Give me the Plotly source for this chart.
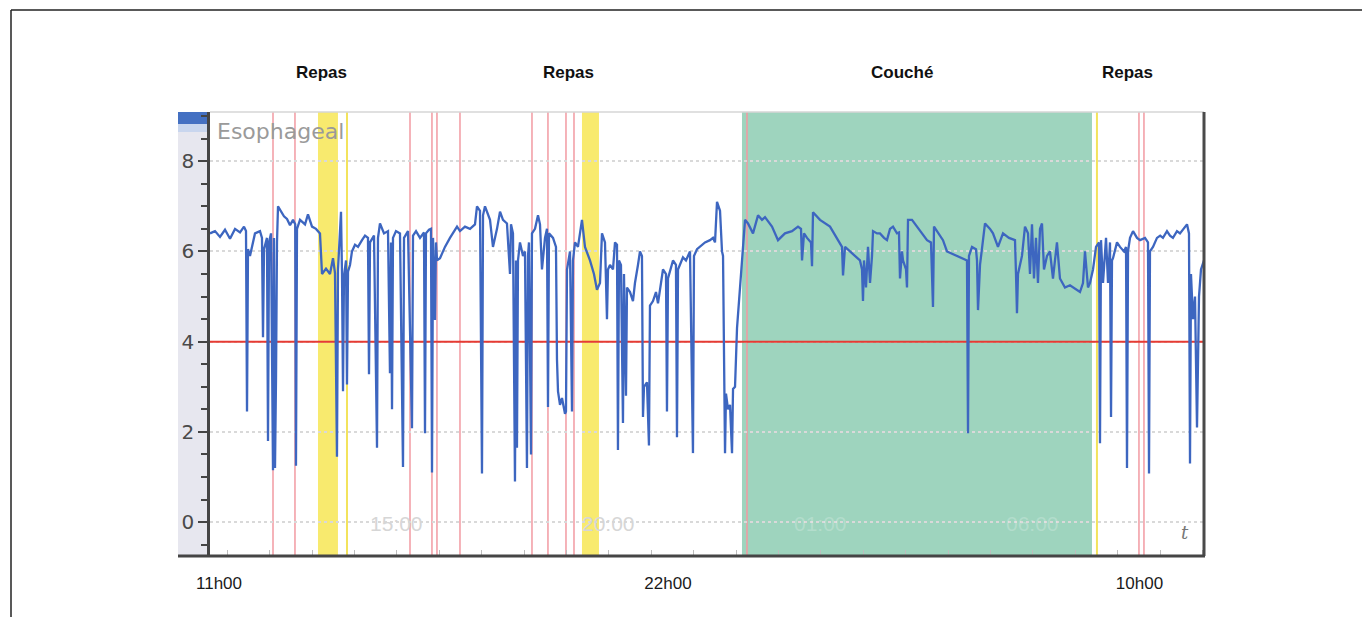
import plotly.graph_objects as go

# ---------------- data (time in hours, 24+ = next day) ----------------
time_h = [
    10.590, 10.708, 10.826, 10.944, 11.062, 11.180, 11.298, 11.392, 11.439, 11.463,
    11.486, 11.533, 11.651, 11.769, 11.816, 11.840, 11.864, 11.934, 11.958, 11.982,
    12.029, 12.076, 12.099, 12.123, 12.147, 12.170, 12.194, 12.265, 12.335, 12.406,
    12.477, 12.548, 12.600, 12.618, 12.642, 12.713, 12.831, 12.901, 12.996, 13.090,
    13.184, 13.232, 13.326, 13.420, 13.491, 13.538, 13.585, 13.609, 13.680, 13.703,
    13.727, 13.750, 13.798, 13.821, 13.845,
    13.892, 13.939, 14.010, 14.081, 14.175, 14.246, 14.316, 14.340, 14.364, 14.458,
    14.529, 14.552, 14.599, 14.694, 14.788, 14.835, 14.859, 14.883, 14.906, 14.977,
    15.071, 15.142, 15.166, 15.260, 15.354, 15.378, 15.449, 15.543, 15.637, 15.661,
    15.684, 15.755, 15.802, 15.826, 15.850, 15.897, 15.920, 15.944, 16.015, 16.132,
    16.250, 16.416, 16.486, 16.604, 16.722, 16.840, 16.887, 16.958, 17.005, 17.029,
    17.076, 17.194, 17.264, 17.359, 17.430, 17.500, 17.594, 17.666, 17.689, 17.736,
    17.783, 17.807, 17.830, 17.854, 17.901, 17.972, 18.019, 18.066, 18.090, 18.113,
    18.161, 18.184, 18.255, 18.326, 18.373, 18.420, 18.491, 18.538, 18.562, 18.585,
    18.680, 18.750, 18.774, 18.798, 18.845, 18.892, 18.963, 18.986, 19.010, 19.081,
    19.128, 19.151, 19.199, 19.269, 19.363, 19.434, 19.552, 19.646, 19.717, 19.788,
    19.835, 19.906, 19.953, 19.977, 20.024, 20.095, 20.142, 20.189, 20.212, 20.236,
    20.283, 20.330, 20.354, 20.401, 20.425, 20.496, 20.566, 20.613, 20.684, 20.731,
    20.778, 20.802, 20.826, 20.896, 20.943, 20.967, 21.038, 21.109, 21.156, 21.203,
    21.274, 21.345, 21.368, 21.392, 21.510, 21.580, 21.604, 21.628, 21.745, 21.816,
    21.911, 21.981, 22.005, 22.076, 22.147, 22.265, 22.383, 22.453, 22.501, 22.548,
    22.619, 22.666, 22.690, 22.737, 22.760, 22.808, 22.855, 22.902, 22.926, 22.973,
    23.020, 23.067, 23.138, 23.209,
    23.279, 23.397, 23.515, 23.609, 23.680, 23.845, 23.987, 24.151, 24.317, 24.458,
    24.529, 24.553, 24.600, 24.671, 24.765, 24.789, 24.812, 24.977, 25.213, 25.449,
    25.496, 25.520, 25.567, 25.685, 25.802, 25.920, 25.968, 25.991, 26.015, 26.062,
    26.109, 26.157, 26.204, 26.228, 26.322, 26.392, 26.487, 26.557, 26.628, 26.699,
    26.793, 26.840, 26.864, 26.911, 26.935, 27.006, 27.029, 27.053, 27.147, 27.265,
    27.383, 27.501, 27.595, 27.619, 27.642, 27.666, 27.878, 27.972, 28.090, 28.208,
    28.326, 28.444, 28.468, 28.491, 28.562, 28.656, 28.680, 28.704, 28.751, 28.869,
    28.987, 29.057, 29.175, 29.293, 29.434, 29.576, 29.600, 29.623, 29.647, 29.741,
    29.812, 29.883, 29.930, 29.977, 30.024, 30.071, 30.118, 30.166, 30.213, 30.260,
    30.331, 30.401, 30.472, 30.566, 30.637, 30.755, 30.873, 30.944, 31.038, 31.109,
    31.180, 31.227, 31.298, 31.345,
    31.416, 31.487, 31.558, 31.581, 31.605, 31.652, 31.723, 31.770, 31.817, 31.841,
    31.864, 31.888, 31.982, 32.053, 32.147, 32.195, 32.218, 32.242, 32.289, 32.360,
    32.454, 32.525, 32.643, 32.713, 32.737, 32.760, 32.831, 32.925, 33.000, 33.066,
    33.161, 33.232, 33.302, 33.397, 33.468, 33.562, 33.633, 33.680, 33.704, 33.727,
    33.774, 33.822, 33.869, 33.916, 33.963, 34.034,
]
ph = [
    6.40, 6.45, 6.32, 6.48, 6.28, 6.50, 6.42, 6.55, 6.45, 2.45,
    6.05, 5.90, 6.40, 6.45, 6.30, 4.10, 6.05, 6.30, 1.80, 6.20,
    6.40, 1.15, 6.30, 1.20, 3.20, 6.20, 7.00, 6.90, 6.78, 6.72,
    6.58, 6.70, 6.60, 1.25, 6.50, 6.70, 6.60, 6.82, 6.55, 6.50,
    6.40, 5.50, 5.62, 5.50, 5.85, 5.52, 1.45, 5.60, 6.88, 5.50,
    2.90, 5.45, 5.80, 3.05, 5.55,
    5.70, 6.00, 6.15, 6.10, 6.25, 6.35, 6.30, 3.28, 6.20, 6.35,
    1.65, 6.30, 6.62, 6.40, 6.45, 3.30, 6.20, 2.50, 6.30, 6.45,
    6.40, 1.22, 6.30, 6.45, 2.08, 6.35, 6.45, 6.30, 6.42, 1.97,
    6.40, 6.48, 6.50, 1.10, 6.30, 4.48, 6.20, 5.80, 5.85, 6.10,
    6.30, 6.55, 6.45, 6.55, 6.50, 6.60, 7.00, 6.90, 1.08, 6.80,
    7.00, 6.70, 6.10, 6.50, 6.88, 6.70, 6.62, 5.50, 6.60, 6.40,
    0.90, 5.80, 1.65, 5.80, 6.20, 5.90, 6.00, 1.20, 5.90, 6.20,
    1.50, 6.40, 6.50, 6.80, 6.60, 5.60, 6.30, 6.50, 2.55, 6.40,
    6.30, 6.10, 3.60, 2.90, 2.60, 2.75, 2.40, 2.45, 5.60, 6.00,
    2.45, 5.80, 6.20, 6.10, 6.70, 6.10, 5.80, 5.50, 5.15, 5.30,
    6.40, 6.20, 4.50, 5.60, 5.70, 5.60, 6.20, 6.15, 1.60, 5.80,
    5.70, 2.20, 5.50, 2.80, 5.20, 5.10, 4.90, 5.30, 5.70, 6.00,
    5.90, 2.33, 3.00, 3.10, 1.70, 4.80, 4.90, 5.10, 4.85, 5.20,
    5.60, 5.50, 2.45, 5.40, 5.80, 5.70, 1.88, 5.60, 5.87, 5.80,
    6.00, 1.53, 5.90, 6.05, 6.10, 6.20, 6.25, 6.30, 6.20, 7.10,
    6.90, 6.00, 5.90, 1.53, 2.85, 2.50, 2.60, 1.53, 2.95, 3.00,
    4.30, 4.90, 6.00, 6.70,
    6.62, 6.40, 6.80, 6.70, 6.76, 6.55, 6.25, 6.40, 6.45, 6.55,
    6.50, 5.80, 6.40, 6.30, 6.20, 5.67, 6.87, 6.70, 6.55, 6.15,
    6.10, 5.47, 6.10, 6.00, 5.90, 5.80, 5.60, 4.90, 5.80, 5.20,
    6.10, 5.30, 5.90, 6.45, 6.40, 6.40, 6.30, 6.25, 6.50, 6.55,
    6.40, 6.42, 5.40, 6.00, 5.80, 5.60, 5.20, 6.70, 6.70, 6.55,
    6.40, 6.25, 6.20, 5.40, 4.77, 6.55, 6.25, 6.00, 5.95, 5.90,
    5.85, 5.80, 1.97, 5.90, 6.10, 6.05, 5.80, 4.70, 5.70, 6.62,
    6.50, 6.40, 6.10, 6.40, 6.30, 6.25, 5.50, 4.63, 5.50, 5.90,
    6.55, 6.40, 5.50, 6.60, 5.40, 6.30, 5.30, 6.50, 6.62, 5.60,
    5.90, 6.00, 5.40, 6.20, 5.40, 5.20, 5.25, 5.20, 5.15, 5.10,
    5.30, 6.00, 5.20, 5.30,
    5.60, 6.10, 6.20, 1.75, 6.25, 5.30, 6.30, 5.30, 6.20, 2.33,
    5.80, 5.85, 6.20, 6.10, 6.00, 6.10, 1.20, 6.00, 6.30, 6.45,
    6.30, 6.25, 6.30, 6.20, 1.08, 6.00, 6.10, 6.30, 6.35, 6.30,
    6.45, 6.35, 6.30, 6.45, 6.40, 6.50, 6.60, 6.40, 1.30, 5.50,
    4.50, 5.00, 2.10, 5.00, 5.60, 5.80,
]

threshold_ph = 4.0

reflux_events_h = [12.076, 12.594, 15.307, 15.825, 15.943, 16.486, 18.184, 18.561,
                   18.986, 19.175, 23.255, 32.500, 32.618]
meal_bands_h = [(13.137, 13.608), (19.363, 19.764)]
meal_marks_h = [13.821, 31.509]
supine_band_h = (23.137, 31.392)

event_labels = ["Repas", "Repas", "Couché", "Repas"]
event_label_x = [13.22, 19.057, 26.911, 32.241]

bottom_tick_vals = [10.802, 21.392, 32.512]
bottom_tick_text = ["11h00", "22h00", "10h00"]

clock_label_x = [15.0, 20.0, 25.0, 30.0]
clock_label_text = ["15:00", "20:00", "01:00", "06:00"]

x_range = [10.59, 34.034]
y_range = [-0.75, 9.09]

# ---------------- figure ----------------
fig = go.Figure()

# threshold line (drawn under the trace)
fig.add_trace(go.Scatter(
    x=x_range, y=[threshold_ph, threshold_ph], mode="lines",
    line=dict(color="#e63b33", width=2), hoverinfo="skip", showlegend=False))

fig.add_trace(go.Scatter(
    x=time_h, y=ph, mode="lines",
    line=dict(color="#3d66c0", width=2.3), showlegend=False))

# hourly inside ticks along bottom (overlay axis)
fig.add_trace(go.Scatter(x=[x_range[0]], y=[None], xaxis="x2", showlegend=False,
                         hoverinfo="skip"))

shapes = []
# supine band
shapes.append(dict(type="rect", xref="x", yref="paper", x0=supine_band_h[0], x1=supine_band_h[1],
                   y0=0, y1=1, fillcolor="#9ed4be", line_width=0, layer="below"))
for a, b in meal_bands_h:
    shapes.append(dict(type="rect", xref="x", yref="paper", x0=a, x1=b, y0=0, y1=1,
                       fillcolor="#f8ea6e", line_width=0, layer="below"))
for m in meal_marks_h:
    shapes.append(dict(type="line", xref="x", yref="paper", x0=m, x1=m, y0=0, y1=1,
                       line=dict(color="#f3e35c", width=2), layer="below"))
for r in reflux_events_h:
    shapes.append(dict(type="line", xref="x", yref="paper", x0=r, x1=r, y0=0, y1=1,
                       line=dict(color="#f29aa2", width=1.5), layer="below"))

# left gutter + blue tab
gx0 = (178 - 210) / 994
shapes.append(dict(type="rect", xref="paper", yref="paper", x0=gx0, x1=0, y0=0, y1=1,
                   fillcolor="#e7e7ef", line_width=0, layer="below"))
shapes.append(dict(type="rect", xref="paper", yref="paper", x0=gx0, x1=0, y0=0.955, y1=0.973,
                   fillcolor="#c9d6ee", line_width=0, layer="below"))
shapes.append(dict(type="rect", xref="paper", yref="paper", x0=gx0, x1=0, y0=0.973, y1=1,
                   fillcolor="#4470c2", line_width=0, layer="below"))
# top light border
shapes.append(dict(type="line", xref="paper", yref="paper", x0=0, x1=1, y0=1, y1=1,
                   line=dict(color="#d6d6d6", width=1.5)))
# right border
shapes.append(dict(type="line", xref="paper", yref="paper", x0=1, x1=1, y0=0, y1=1,
                   line=dict(color="#4a4a4a", width=3)))
# bottom axis line spanning gutter
shapes.append(dict(type="line", xref="paper", yref="paper", x0=gx0, x1=1.001, y0=0, y1=0,
                   line=dict(color="#454545", width=3)))
# outer page frame (top and left)
fx = (11 - 210) / 994
fy_top = (556 - 10) / 444
fy_bot = (556 - 620) / 444
fx_right = (1366 - 210) / 994
shapes.append(dict(type="line", xref="paper", yref="paper", x0=fx, x1=fx_right, y0=fy_top, y1=fy_top,
                   line=dict(color="#222222", width=1.5)))
shapes.append(dict(type="line", xref="paper", yref="paper", x0=fx, x1=fx, y0=fy_bot, y1=fy_top,
                   line=dict(color="#222222", width=1.5)))

annotations = []
for t, xv in zip(event_labels, event_label_x):
    annotations.append(dict(x=xv, y=(556 - 72) / 444, xref="x", yref="paper", text=f"<b>{t}</b>",
                            showarrow=False, font=dict(family="Liberation Sans, Arial", size=17, color="#111"),
                            xanchor="center", yanchor="middle"))
for xv, t in zip(clock_label_x, clock_label_text):
    in_green = supine_band_h[0] < xv < supine_band_h[1]
    annotations.append(dict(x=xv, y=-0.03, xref="x", yref="y", text=t, showarrow=False,
                            font=dict(family="Liberation Sans Narrow, Liberation Sans", size=21,
                                      color="rgba(255,255,255,0.22)" if in_green else "#d6d6d6"),
                            xanchor="center", yanchor="middle"))
annotations.append(dict(x=5 / 994, y=(556 - 131) / 444, xref="paper", yref="paper", text="Esophageal",
                        showarrow=False, font=dict(family="DejaVu Sans", size=22, color="#9a9a9a"),
                        xanchor="left", yanchor="middle"))
annotations.append(dict(x=(1185 - 210) / 994, y=(556 - 532) / 444, xref="paper", yref="paper",
                        text="<i>t</i>", showarrow=False,
                        font=dict(family="DejaVu Serif", size=18, color="#777"),
                        xanchor="center", yanchor="middle"))

fig.update_layout(
    width=1362, height=617,
    margin=dict(l=210, r=158, t=112, b=61),
    paper_bgcolor="white", plot_bgcolor="white",
    shapes=shapes, annotations=annotations,
    xaxis=dict(range=x_range, showgrid=False, zeroline=False, showline=False,
               tickmode="array", tickvals=bottom_tick_vals, ticktext=bottom_tick_text,
               ticks="outside", ticklen=12, tickcolor="rgba(0,0,0,0)",
               tickfont=dict(family="Liberation Sans, Arial", size=17, color="#1a1a1a")),
    xaxis2=dict(range=x_range, overlaying="x", side="bottom", showgrid=False, zeroline=False,
                showline=False, showticklabels=False, tickmode="linear", tick0=0, dtick=1,
                ticks="inside", ticklen=6, tickcolor="#bdbdbd", tickwidth=1),
    yaxis=dict(range=y_range, tickmode="array", tickvals=[0, 2, 4, 6, 8],
               showgrid=True, gridcolor="#d9d9d9", griddash="dot", gridwidth=1.5,
               zeroline=False, showline=True, linecolor="#454545", linewidth=2.5,
               ticks="outside", ticklen=9, tickwidth=2, tickcolor="#454545",
               minor=dict(dtick=0.5, tick0=0, ticks="outside", ticklen=6, tickwidth=2,
                          tickcolor="#454545", showgrid=False),
               tickfont=dict(family="DejaVu Sans", size=20, color="#4a4a4a")),
)

fig.write_html(
    "out.html",
    config={"displayModeBar": False},
    post_script="document.body.style.margin='0';document.body.style.overflow='hidden';",
)
